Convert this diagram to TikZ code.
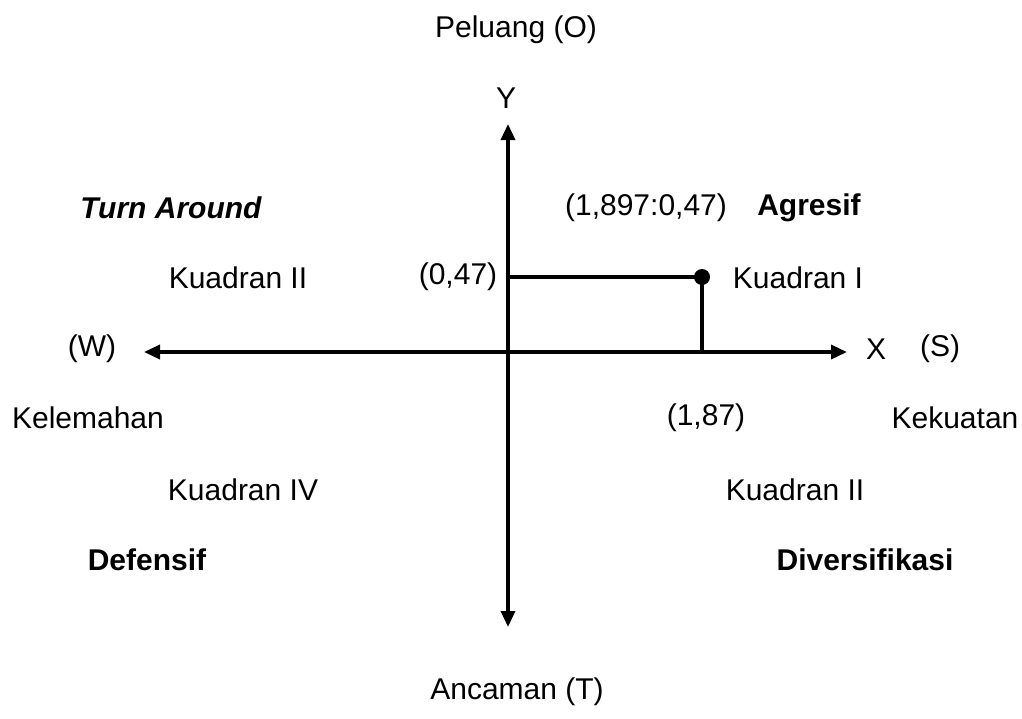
\documentclass[tikz,border=0pt]{standalone}
\usepackage{fontspec}
\setmainfont{Liberation Sans}
\usetikzlibrary{arrows.meta}
\begin{document}
\begin{tikzpicture}[x=1pt,y=-1pt,>={Triangle[length=16pt,width=14pt]},
    every node/.style={font=\fontsize{30}{35}\selectfont},
    lbl/.style={font=\fontsize{30}{35}\selectfont\bfseries}]
    \useasboundingbox (0,0) rectangle (1022,718);
    % axes
    \coordinate (top) at (508,124);
    \coordinate (bot) at (508,627);
    \coordinate (lft) at (144,352);
    \coordinate (rgt) at (847,352);
    \coordinate (py) at (508,277);
    \coordinate (px) at (702,352);
    \coordinate (pt) at (702,277);
    \draw[<->,line width=3.4pt] (bot) -- (top);
    \draw[<->,line width=3.4pt] (lft) -- (rgt);
    \draw[line width=3.4pt] (py) -- (pt) -- (px);
    \fill (pt) circle (8pt);
    % axis labels
    \node (peluang) at (516,30) {Peluang (O)};
    \node (ancaman) at (517,692) {Ancaman (T)};
    \node (ylab) at (506,98) {Y};
    \node (xlab) at (876,349) {X};
    \node (slab) at (940,349) {(S)};
    \node (wlab) at (92,349) {(W)};
    \node (kelemahan) at (88,418) {Kelemahan};
    \node (kekuatan) at (955,418) {Kekuatan};
    % values
    \node (ynum) at (458,277) {(0,47)};
    \node (xnum) at (706,418) {(1,87)};
    \node (ptnum) at (646,208) {(1,897:0,47)};
    % quadrants
    \node[lbl] (agresif) at (809,208) {Agresif};
    \node (kuadI) at (798,278) {Kuadran I};
    \node[lbl,font=\fontsize{30}{35}\selectfont\bfseries\itshape] (turn) at (171,208) {Turn Around};
    \node (kuadII) at (238,278) {Kuadran II};
    \node (kuadIV) at (243,490) {Kuadran IV};
    \node[lbl] (defensif) at (147,560) {Defensif};
    \node (kuadIIb) at (795,490) {Kuadran II};
    \node[lbl] (divers) at (865,560) {Diversifikasi};
\end{tikzpicture}
\end{document}
